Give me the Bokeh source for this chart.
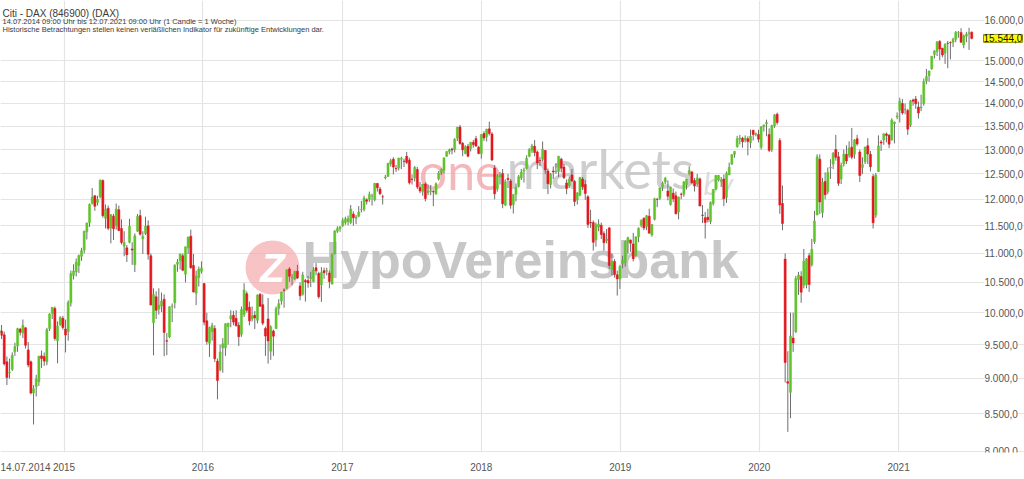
import pandas as pd
from bokeh.plotting import figure
from bokeh.models import (ColumnDataSource, Range1d, FixedTicker, DatetimeTickFormatter,
                          Label, BoxAnnotation)
from bokeh.embed import file_html
from bokeh.resources import INLINE

# ---------------- data (weekly candles, DAX, 14.07.2014 - 12.07.2021) ----------------
start_date = "2014-07-14"

open_ = [
    9680, 9710, 9650, 9240, 9080, 9130, 9390, 9480, 9740, 9680, 9760, 9420, 9240, 8790, 8880, 8950, 9330, 9320, 9240, 9750, 9990, 10070, 9560, 9810, 9910,
    9740, 9700, 10160, 10620, 10680, 10790, 10950, 11060, 11390, 11560, 11920, 12070, 11940, 12050, 12370, 11640, 11830, 11460, 11680, 11500, 11800, 11450, 11130, 11100, 11200, 11080, 10800, 11400, 11690, 11260, 11360, 11500, 10960, 9840, 10260, 10060, 10110, 10220, 9560, 9620, 10100, 10160, 10810, 10870, 10960, 10640, 11100, 11310, 10790, 10320, 10580, 10690,
    10480, 9870, 9520, 9700, 9750, 9250, 9120, 9450, 9450, 9780, 9900, 9960, 9910, 9800, 9660, 9970, 10310, 10090, 9900, 9960, 9880, 10300, 10130, 9750, 9900, 9400, 9710, 9750, 10070, 10190, 10370, 10400, 10730, 10570, 10560, 10690, 10440, 10300, 10530, 10530, 10560, 10510, 10750, 10650, 10460, 10700, 10690, 10660, 10470, 11000, 11400, 11450,
    11500, 11560, 11580, 11560, 11720, 11640, 11680, 11800, 11810, 11990, 12000, 12060, 11990, 12310, 12200, 12050, 12420, 12450, 12700, 12800, 12610, 12620, 12800, 12760, 12860, 12780, 12400, 12420, 12590, 12230, 12150, 12300, 12130, 12150, 12150, 12100, 12400, 12530, 12570, 12860, 12960, 13010, 13000, 13240, 13480, 13130, 12920, 13070, 13020, 13150, 13230, 13050,
    12920, 13340, 13270, 13440, 13330, 12620, 12200, 12440, 12510, 11890, 12410, 12360, 11900, 12100, 12250, 12420, 12560, 12610, 12860, 12980, 13070, 12950, 12780, 12800, 12980, 12560, 12290, 12560, 12550, 12550, 12800, 12640, 12320, 12260, 12480, 12350, 11990, 12080, 12400, 12290, 12050, 11560, 11560, 11240, 11480, 11510, 11360, 11230, 11460, 10720, 10860, 10630,
    10560, 10820, 10840, 11200, 11240, 11170, 10960, 11300, 11510, 11640, 11490, 11680, 11330, 11620, 12000, 12020, 12240, 12340, 12160, 11900, 12120, 12070, 11760, 12100, 12100, 12290, 12500, 12540, 12370, 12300, 12400, 11700, 11650, 11660, 11580, 11920, 12200, 12380, 12350, 12400, 12040, 12480, 12700, 12900, 13060, 13220, 13240, 13200, 13230, 13150, 13410, 13320,
    13320, 13050, 13490, 13550, 13320, 13000, 13500, 13760, 13190, 11920, 10900, 8950, 8800, 9600, 9700, 10550, 10600, 10450, 10460, 10960, 10800, 11210, 11700, 12800, 11750, 12350, 12150, 12620, 12700, 13000, 12850, 12400, 12700, 12900, 12880, 13050, 12900, 13230, 12950, 12630, 12750, 13080, 12900, 12450, 11700, 12550, 13160, 13200, 13330, 13300, 13200, 13550,
    13700, 13850, 14000, 13860, 13840, 13520, 14080, 14100, 13920, 13900, 14000, 14520, 14640, 14800, 15150, 15220, 15470, 15300, 15180, 15420, 15440, 15450, 15520, 15690, 15690, 15380, 15600, 15660, 15700,
]

high = [
    9803, 9805, 9700, 9320, 9290, 9383, 9530, 9760, 9760, 9891, 9770, 9540, 9260, 8900, 9050, 9330, 9410, 9380, 9760, 9990, 10093, 10100, 9860, 9945, 9950,
    9890, 10200, 10702, 10810, 10910, 10980, 11100, 11410, 11560, 11920, 12220, 12080, 12070, 12391, 12390, 11900, 11880, 11710, 11720, 11920, 11880, 11620, 11400, 11150, 11630, 11200, 11360, 11720, 11802, 11400, 11670, 11600, 11000, 10400, 10350, 10400, 10330, 10300, 9680, 10100, 10150, 10810, 10900, 11000, 11000, 11120, 11300, 11430, 10990, 10700, 10770, 10860,
    10490, 10000, 9780, 9840, 9800, 9290, 9500, 9600, 9830, 9840, 10040, 10030, 10040, 9850, 10100, 10486, 10350, 10180, 10100, 10030, 10300, 10320, 10300, 9780, 10240, 9800, 9730, 10100, 10220, 10340, 10400, 10720, 10760, 10640, 10700, 10800, 10500, 10680, 10560, 10610, 10680, 10760, 10830, 10680, 10760, 10750, 10750, 10700, 11000, 11420, 11490, 11490,
    11650, 11670, 11690, 11890, 11770, 11700, 11870, 11970, 12070, 12020, 12150, 12110, 12320, 12320, 12240, 12090, 12480, 12720, 12810, 12840, 12680, 12830, 12850, 12810, 12951, 12830, 12490, 12660, 12640, 12340, 12300, 12330, 12290, 12280, 12180, 12330, 12560, 12610, 12830, 12970, 13020, 13040, 13240, 13480, 13526, 13160, 13090, 13120, 13160, 13200, 13290, 13080,
    13330, 13390, 13440, 13597, 13370, 12680, 12500, 12540, 12600, 12390, 12500, 12400, 12100, 12310, 12480, 12600, 12630, 12880, 13030, 13120, 13200, 12980, 12850, 13170, 12990, 12610, 12520, 12650, 12720, 12870, 12830, 12700, 12390, 12450, 12600, 12380, 12140, 12440, 12440, 12380, 12080, 11800, 11600, 11560, 11620, 11560, 11400, 11440, 11480, 11000, 10900, 10700,
    10800, 10960, 11230, 11300, 11250, 11370, 11300, 11470, 11620, 11660, 11700, 11820, 11530, 12030, 12030, 12230, 12350, 12440, 12370, 12250, 12210, 12150, 12050, 12130, 12360, 12400, 12650, 12560, 12420, 12500, 12430, 11890, 11760, 11820, 11960, 12200, 12480, 12480, 12440, 12490, 12550, 12730, 12900, 12970, 13290, 13310, 13270, 13300, 13280, 13425, 13420, 13360,
    13420, 13500, 13530, 13640, 13450, 13530, 13760, 13795, 13240, 12270, 11000, 9400, 10000, 10000, 10610, 10680, 10690, 11080, 10920, 11010, 11260, 11780, 12900, 12900, 12420, 12530, 12630, 12800, 12950, 13310, 12950, 12730, 13000, 13090, 13170, 13460, 13220, 13310, 13000, 12840, 13060, 13240, 12970, 12500, 12520, 13300, 13200, 13340, 13360, 13330, 13670, 13600,
    13800, 14130, 14100, 14000, 13880, 14080, 14110, 14170, 14040, 14200, 14570, 14800, 14760, 15110, 15250, 15470, 15500, 15310, 15420, 15480, 15470, 15560, 15730, 15730, 15800, 15640, 15710, 15810, 15720,
]

low = [
    9605, 9585, 9186, 8903, 8995, 9105, 9330, 9390, 9640, 9600, 9440, 9160, 8770, 8355, 8740, 8890, 9150, 9180, 9190, 9710, 9900, 9560, 9219, 9790, 9730,
    9382, 9560, 10100, 10550, 10600, 10660, 10870, 11000, 11250, 11480, 11900, 11780, 11880, 12020, 11650, 11450, 11420, 11180, 11240, 11430, 11400, 11160, 10950, 10850, 11180, 10800, 10676, 11390, 11320, 10990, 11330, 10890, 10120, 9338, 9900, 9970, 10010, 9325, 9340, 9600, 9850, 10070, 10680, 10720, 10690, 10500, 10990, 10730, 10330, 10124, 10430, 10650,
    9800, 9500, 9314, 9560, 9240, 8699, 9100, 9080, 9330, 9500, 9770, 9800, 9780, 9480, 9620, 9930, 10000, 9800, 9860, 9740, 9830, 10100, 9800, 9330, 9214, 9270, 9330, 9740, 9960, 10130, 10080, 10380, 10510, 10450, 10540, 10560, 10200, 10280, 10180, 10410, 10420, 10500, 10620, 10230, 10175, 10560, 10620, 10400, 10470, 10980, 11370, 11390,
    11480, 11520, 11510, 11530, 11500, 11530, 11660, 11750, 11770, 11900, 11950, 11880, 11960, 12150, 12080, 11900, 12390, 12440, 12650, 12490, 12540, 12570, 12600, 12640, 12700, 12290, 12290, 12350, 12200, 12120, 12070, 11960, 12080, 12080, 11868, 12100, 12370, 12480, 12510, 12850, 12900, 12900, 12940, 13180, 13100, 12860, 12900, 12840, 12960, 13040, 13060, 12900,
    12810, 13180, 13170, 13300, 12760, 12000, 12150, 12290, 11830, 11870, 12220, 11820, 11730, 11960, 12230, 12380, 12330, 12590, 12840, 12930, 12860, 12600, 12660, 12750, 12500, 12100, 12210, 12400, 12500, 12440, 12530, 12400, 12100, 12220, 12340, 11870, 11900, 12060, 12180, 11990, 11460, 11460, 11050, 11120, 11400, 11260, 11050, 11180, 10730, 10620, 10580, 10279,
    10390, 10740, 10770, 11000, 11030, 10860, 10930, 11200, 11470, 11420, 11420, 11360, 11300, 11600, 11850, 11990, 12160, 12290, 11980, 11880, 11950, 11710, 11620, 12000, 12050, 12190, 12470, 12290, 12150, 12240, 11870, 11550, 11266, 11560, 11530, 11880, 12180, 12350, 12240, 11870, 11930, 12480, 12680, 12830, 13040, 13110, 13040, 13150, 12880, 13030, 13190, 13280,
    13150, 13000, 13380, 13280, 12950, 12950, 13460, 13530, 11724, 11420, 8940, 8256, 8440, 9390, 9680, 10290, 10160, 10400, 10400, 10340, 10770, 11170, 11700, 11720, 11650, 12000, 12100, 12400, 12600, 12770, 12260, 12300, 12650, 12700, 12830, 12800, 12810, 13080, 12340, 12500, 12700, 12700, 12550, 11450, 11650, 12540, 12970, 13100, 13150, 13030, 13190, 13130,
    13650, 13580, 13750, 13760, 13310, 13480, 13950, 13880, 13664, 13830, 13950, 14440, 14500, 14780, 15050, 15110, 15010, 15080, 14920, 14816, 15030, 15330, 15450, 15560, 15440, 15300, 15450, 15260, 15520,
]

close = [
    9720, 9644, 9210, 9010, 9092, 9339, 9470, 9747, 9691, 9799, 9490, 9195, 8788, 8850, 8988, 9326, 9291, 9252, 9732, 9980, 10087, 9594, 9787, 9923, 9765,
    9648, 10168, 10649, 10694, 10846, 10963, 11051, 11401, 11551, 11902, 12040, 11868, 12001, 12375, 11689, 11811, 11454, 11709, 11447, 11815, 11413, 11197, 11197, 10978, 11492, 11059, 11316, 11673, 11347, 11309, 11490, 10985, 10124, 10298, 10038, 10123, 10189, 9688, 9553, 10096, 10104, 10795, 10850, 10988, 10708, 11119, 11293, 10752, 10340, 10608, 10727, 10743,
    9849, 9546, 9764, 9798, 9286, 8967, 9388, 9513, 9824, 9831, 9950, 9851, 9794, 9622, 10051, 10373, 10039, 9870, 9952, 9917, 10287, 10103, 9834, 9631, 9557, 9776, 9630, 10067, 10147, 10337, 10367, 10713, 10604, 10588, 10684, 10573, 10276, 10627, 10511, 10490, 10580, 10711, 10696, 10259, 10668, 10664, 10700, 10513, 10987, 11404, 11450, 11481,
    11599, 11629, 11630, 11814, 11651, 11666, 11757, 11804, 12027, 11963, 12095, 12064, 12313, 12225, 12109, 12049, 12438, 12717, 12770, 12638, 12602, 12823, 12816, 12753, 12733, 12325, 12389, 12631, 12240, 12163, 12298, 12014, 12165, 12168, 12143, 12304, 12519, 12592, 12829, 12956, 12992, 12991, 13218, 13479, 13127, 12994, 13060, 12861, 13153, 13104, 13072, 12918,
    13320, 13245, 13434, 13340, 12785, 12107, 12452, 12484, 11914, 12346, 12390, 11886, 12096, 12241, 12442, 12540, 12580, 12820, 13001, 13077, 12938, 12724, 12767, 13011, 12580, 12306, 12496, 12541, 12561, 12860, 12616, 12424, 12211, 12395, 12364, 11960, 12124, 12431, 12247, 12111, 11524, 11554, 11201, 11519, 11529, 11342, 11193, 11257, 10788, 10866, 10634, 10559,
    10768, 10887, 11205, 11282, 11181, 10906, 11299, 11457, 11602, 11458, 11686, 11364, 11526, 12010, 11999, 12222, 12315, 12412, 12059, 12238, 12011, 11727, 12045, 12096, 12340, 12399, 12568, 12323, 12260, 12419, 11872, 11694, 11563, 11612, 11939, 12192, 12469, 12468, 12381, 12013, 12512, 12634, 12895, 12961, 13229, 13242, 13164, 13236, 13167, 13283, 13319, 13337,
    13219, 13483, 13526, 13577, 12982, 13513, 13745, 13579, 11890, 11542, 9232, 8929, 9633, 9525, 10565, 10626, 10336, 10862, 10904, 10465, 11074, 11587, 12848, 11949, 12331, 12089, 12528, 12633, 12920, 12838, 12313, 12675, 12901, 12765, 13033, 12842, 13203, 13116, 12469, 12689, 13051, 12909, 12646, 11556, 12480, 13077, 13137, 13335, 13299, 13114, 13631, 13587,
    13719, 14050, 13788, 13874, 13433, 14057, 14050, 13993, 13786, 13921, 14502, 14621, 14749, 15107, 15234, 15460, 15280, 15136, 15400, 15417, 15437, 15520, 15693, 15693, 15448, 15608, 15650, 15688, 15544,
]

y_tick_values = [8000, 8500, 9000, 9500, 10000, 10500, 11000, 11500, 12000, 12500,
                 13000, 13500, 14000, 14500, 15000, 16000]
year_ticks = ["2015-01-01", "2016-01-01", "2017-01-01", "2018-01-01",
              "2019-01-01", "2020-01-01", "2021-01-01"]
last_price = 15544
title_text = "Citi - DAX (846900) (DAX)"
subtitle_text = "14.07.2014 09:00 Uhr bis 12.07.2021 09:00 Uhr (1 Candle = 1 Woche)"
disclaimer_text = "Historische Betrachtungen stellen keinen verläßlichen Indikator für zukünftige Entwicklungen dar."
start_label = "14.07.2014"

# ---------------- helpers ----------------
def de_num(v):
    s = f"{v:,.1f}"
    return s.replace(",", "X").replace(".", ",").replace("X", ".")

def to_ms(ts):
    return (pd.Timestamp(ts) - pd.Timestamp("1970-01-01")) / pd.Timedelta(milliseconds=1)

n = min(len(open_), len(high), len(low), len(close))
dates = pd.date_range(start_date, periods=n, freq="7D")
o, h, l, c = open_[:n], high[:n], low[:n], close[:n]
GREEN, RED, WICK = "#5fc42a", "#e5161d", "#6e6e6e"
FONT = "Liberation Sans"

src = ColumnDataSource(dict(
    date=dates, open=o, high=h, low=l, close=c,
    top=[max(a, b) for a, b in zip(o, c)],
    bottom=[min(a, b) for a, b in zip(o, c)],
    color=[GREEN if b >= a else RED for a, b in zip(o, c)],
))

week_ms = 7 * 24 * 3600 * 1000
t0 = to_ms(start_date)
# plot frame spans the full width; the right strip holds the price scale labels
x_range = Range1d(start=t0 + 0.6 * week_ms, end=t0 + 384.8 * week_ms)
y_range = Range1d(start=7987, end=16521)

p = figure(width=1024, height=479, x_axis_type="datetime", y_axis_type="log",
           x_range=x_range, y_range=y_range, y_axis_location=None,
           toolbar_location=None, output_backend="svg",
           min_border_left=0, min_border_right=0, min_border_top=0, min_border_bottom=27)
p.outline_line_color = None
p.background_fill_color = "white"
p.border_fill_color = "white"

# x axis (years + start date)
year_ms = [to_ms(y) for y in year_ticks]
start_tick = to_ms(dates[10])
xa = p.xaxis[0]
xa.ticker = FixedTicker(ticks=[start_tick] + year_ms)
fmt = "%Y"
xa.formatter = DatetimeTickFormatter(years=fmt, months=fmt, days=fmt, hours=fmt, hourmin=fmt,
                                     minutes=fmt, minsec=fmt, seconds=fmt,
                                     milliseconds=fmt, microseconds=fmt)
xa.major_label_overrides = {start_tick: start_label, str(int(start_tick)): start_label}
xa.axis_line_color = None
xa.major_tick_line_color = None
xa.minor_tick_line_color = None
xa.major_tick_out = 0
xa.major_tick_in = 0
xa.major_label_standoff = 10
xa.major_label_text_font = FONT
xa.major_label_text_font_size = "10px"
xa.major_label_text_color = "#555555"

p.xgrid.ticker = FixedTicker(ticks=year_ms)
p.xgrid.grid_line_color = "#e4e4e4"
p.xgrid.grid_line_width = 1.2
p.ygrid.ticker = FixedTicker(ticks=y_tick_values)
p.ygrid.grid_line_color = "#e4e4e4"
p.ygrid.grid_line_width = 1.2

# watermark (underlay)
p.add_layout(BoxAnnotation(left=245, right=299, bottom=158, top=212,
                           left_units="screen", right_units="screen",
                           top_units="screen", bottom_units="screen",
                           fill_color="#f3a9ac", fill_alpha=0.7, line_color=None,
                           border_radius=27, level="underlay"))
p.add_layout(Label(x=272, y=185, x_units="screen", y_units="screen", text="Z",
                   text_font=FONT, text_font_style="bold italic",
                   text_font_size="40px", text_color="white", text_align="center",
                   text_baseline="middle", level="underlay"))
p.add_layout(Label(x=302, y=164, x_units="screen", y_units="screen", text="HypoVereinsbank",
                   text_font=FONT, text_font_style="bold",
                   text_font_size="52px", text_color="#b4b4b4", text_alpha=0.75,
                   level="underlay"))
p.add_layout(Label(x=501, y=252, x_units="screen", y_units="screen", text="one",
                   text_font="Lato", text_font_size="50px", text_color="#f09aa0",
                   text_alpha=0.7, text_align="right", level="underlay"))
p.add_layout(Label(x=506, y=252, x_units="screen", y_units="screen", text="markets",
                   text_font="Lato", text_font_size="54px", text_color="#bdbdbd",
                   text_alpha=0.75, level="underlay"))
p.add_layout(Label(x=703, y=252, x_units="screen", y_units="screen", text="by",
                   text_font="Lato", text_font_size="30px", text_font_style="italic",
                   text_color="#d4d4d4", text_alpha=0.8, level="underlay"))

# candles
p.segment(x0="date", y0="low", x1="date", y1="high", source=src,
          line_color=WICK, line_width=1)
p.vbar(x="date", width=0.78 * week_ms, top="top", bottom="bottom", source=src,
       fill_color="color", line_color="color", line_width=0.5)

# price scale labels (right strip)
for v in y_tick_values:
    p.add_layout(Label(x=984, y=v, x_units="screen", y_units="data", text=de_num(v),
                       text_font=FONT, text_font_size="10px",
                       text_color="#555555", text_baseline="middle",
                       background_fill_color="white"))

# last price label
p.add_layout(Label(x=983, y=last_price, x_units="screen", y_units="data",
                   text=de_num(last_price), text_font=FONT,
                   text_font_size="10px", text_color="#111111", text_baseline="middle",
                   background_fill_color="#ffff00", border_line_color="#8c8c1a",
                   border_line_width=1))

# header texts
p.add_layout(Label(x=2, y=433.7, x_units="screen", y_units="screen", text=title_text,
                   text_font=FONT, text_font_size="10px", text_color="#3a3a3a"))
p.add_layout(Label(x=2, y=426.5, x_units="screen", y_units="screen", text=subtitle_text,
                   text_font=FONT, text_font_size="7.5px", text_color="#3a3a3a"))
p.add_layout(Label(x=2, y=419, x_units="screen", y_units="screen", text=disclaimer_text,
                   text_font=FONT, text_font_size="7.5px", text_color="#3a3a3a"))

open("out.html", "w", encoding="utf-8").write(file_html(p, INLINE))
